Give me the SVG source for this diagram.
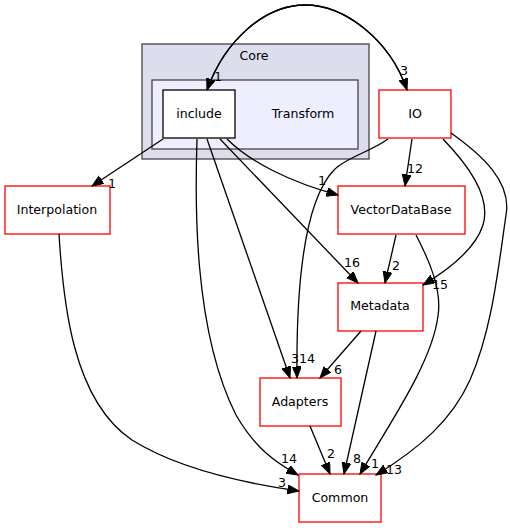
<svg xmlns="http://www.w3.org/2000/svg" width="510" height="528" viewBox="0 0 510 528">
<style>
text{font-family:"DejaVu Sans","Liberation Sans",sans-serif;font-size:12.6px;fill:#000}
.n{text-anchor:middle}
.node{fill:#fff;stroke:#ff0000;stroke-width:1.3}
.e{fill:none;stroke:#000;stroke-width:1.3;marker-end:url(#ah)}
</style>
<defs>
<marker id="ah" markerUnits="userSpaceOnUse" markerWidth="13" markerHeight="10" refX="11.5" refY="4.5" orient="auto">
<path d="M0,0 L11.5,4.5 L0,9 z" fill="#000" stroke="#000" stroke-width="1"/>
</marker>
</defs>
<rect width="510" height="528" fill="#fff"/>
<g id="cluster_Core">
<rect x="142" y="44" width="227" height="115" fill="#ddddee" stroke="#444" stroke-width="1.3"/>
<text class="n" x="254" y="60">Core</text>
</g>
<g id="cluster_Transform">
<rect x="152" y="80" width="206" height="69" fill="#eeeeff" stroke="#444" stroke-width="1.3"/>
<text class="n" x="303" y="118">Transform</text>
</g>
<g id="node_include">
<rect x="163" y="90" width="72" height="48" fill="#fff" stroke="#000" stroke-width="1.3"/>
<text class="n" x="199" y="118">include</text>
</g>
<g id="node_IO">
<rect class="node" x="379" y="90" width="72" height="48"/>
<text class="n" x="415" y="118">IO</text>
</g>
<g id="node_Interpolation">
<rect class="node" x="5" y="186" width="105" height="48"/>
<text class="n" x="57" y="214">Interpolation</text>
</g>
<g id="node_VectorDataBase">
<rect class="node" x="338" y="186" width="127" height="48"/>
<text class="n" x="401" y="214">VectorDataBase</text>
</g>
<g id="node_Metadata">
<rect class="node" x="338" y="283" width="85" height="48"/>
<text class="n" x="380" y="310">Metadata</text>
</g>
<g id="node_Adapters">
<rect class="node" x="260" y="378" width="81" height="48"/>
<text class="n" x="300" y="406">Adapters</text>
</g>
<g id="node_Common">
<rect class="node" x="299" y="474" width="82" height="48"/>
<text class="n" x="340" y="502">Common</text>
</g>
<g id="edges">
<path class="e" d="M207,90 C225,40 265,5 305,5 C345,5 390,40 407,90"/>
<path class="e" d="M407,90 C390,40 345,5 305,5 C265,5 225,40 207,90"/>
<text x="400" y="75">3</text>
<text x="214" y="81">1</text>
<path class="e" d="M163,139 L92,186"/>
<text x="108" y="188">1</text>
<path class="e" d="M197,139 C195,200 193,330 236,415 C255,448 275,462 298,475"/>
<text x="281" y="463">14</text>
<path class="e" d="M207,139 L290,378"/>
<text x="291" y="363">3</text>
<path class="e" d="M388,139 C370,152 345,158 334,170 C305,200 296,280 297,378"/>
<text x="299" y="363">14</text>
<path class="e" d="M220,139 L358,283"/>
<text x="344" y="267">16</text>
<path class="e" d="M227,139 C250,162 290,182 338,195"/>
<text x="318" y="185">1</text>
<path class="e" d="M412,139 L405,186"/>
<text x="407" y="173">12</text>
<path class="e" d="M443,139 C465,162 492,195 483,225 C475,250 448,270 423,285"/>
<text x="432" y="289">15</text>
<path class="e" d="M451,133 C482,155 512,182 506,215 C498,270 492,330 470,380 C452,420 420,448 376,475"/>
<text x="386" y="474">13</text>
<path class="e" d="M396,235 L385,283"/>
<text x="392" y="270">2</text>
<path class="e" d="M416,235 C430,262 442,290 438,316 C432,362 392,420 360,474"/>
<text x="371" y="468">1</text>
<path class="e" d="M361,331 L320,378"/>
<text x="334" y="374">6</text>
<path class="e" d="M376,331 L344,474"/>
<text x="353" y="463">8</text>
<path class="e" d="M310,426 L330,474"/>
<text x="327" y="458">2</text>
<path class="e" d="M59,234 C63,300 72,400 132,440 C180,470 250,484 299,491"/>
<text x="278" y="487">3</text>
</g>
</svg>
